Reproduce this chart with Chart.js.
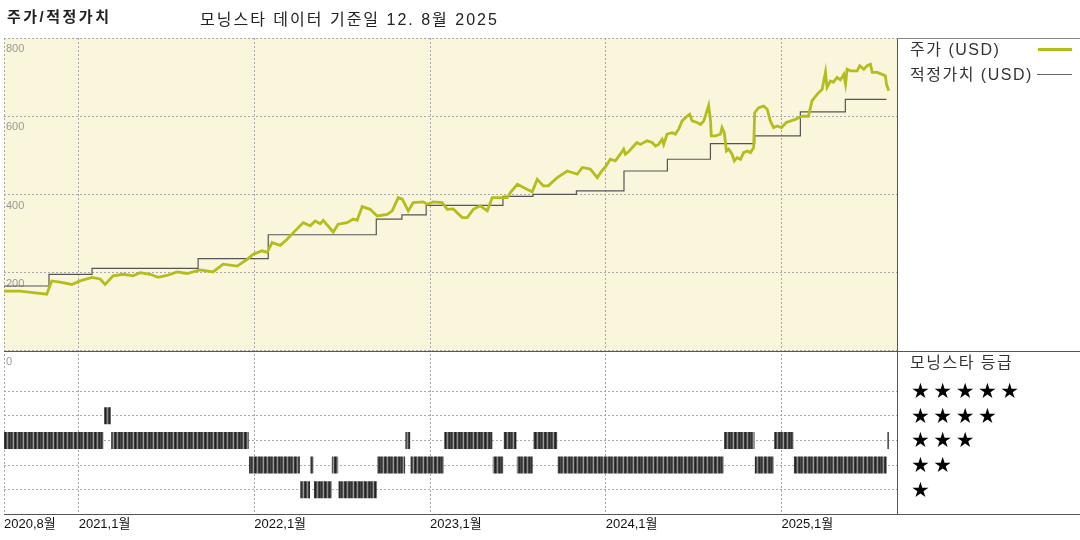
<!DOCTYPE html>
<html lang="ko">
<head>
<meta charset="utf-8">
<title>주가/적정가치</title>
<script src="https://cdn.jsdelivr.net/npm/chart.js@4.4.1/dist/chart.umd.min.js"></script>
<style>
  html, body { margin: 0; padding: 0; background: #fff; }
  #wrap { position: relative; width: 1080px; height: 540px; overflow: hidden;
          font-family: "Liberation Sans", "Noto Sans CJK KR", sans-serif; color: #222; }
  #chart { position: absolute; left: 0; top: 0; }
  .txt { position: absolute; white-space: nowrap; line-height: 1; }
  .title { left: 7px; top: 9px; font-size: 15px; font-weight: bold; letter-spacing: 2.5px; }
  .sub { left: 200px; top: 12px; font-size: 16px; letter-spacing: 2px; }
  .legend { left: 910px; font-size: 16px; letter-spacing: 1.5px; color: #333; }
  .swatch { position: absolute; }
  .stars { left: 911px; font-family: "DejaVu Sans", sans-serif; font-size: 21px; letter-spacing: 3.5px; color: #000; }
</style>
</head>
<body>
<div id="wrap">
  <canvas id="chart" width="1080" height="540"></canvas>
  <div class="txt title">주가/적정가치</div>
  <div class="txt sub">모닝스타 데이터 기준일 12. 8월 2025</div>

  <div class="txt legend" style="top:42px">주가 (USD)</div>
  <div class="swatch" style="left:1038px; top:48px; width:34px; height:3px; background:#b4bd1b"></div>
  <div class="txt legend" style="top:67px">적정가치 (USD)</div>
  <div class="swatch" style="left:1037px; top:74px; width:35px; height:1px; background:#666"></div>

  <div class="txt legend" style="top:355px">모닝스타 등급</div>
  <div class="txt stars" style="top:381px">★★★★★</div>
  <div class="txt stars" style="top:406px">★★★★</div>
  <div class="txt stars" style="top:430px">★★★</div>
  <div class="txt stars" style="top:455px">★★</div>
  <div class="txt stars" style="top:480px">★</div>
</div>
<script>
// Dates en années décimales
const priceDates = [
  2020.575, 2020.666, 2020.740, 2020.818, 2020.847, 2020.894, 2020.961, 2021.008, 2021.075, 2021.122,
  2021.150, 2021.196, 2021.253, 2021.310, 2021.350, 2021.407, 2021.452, 2021.503, 2021.560, 2021.617,
  2021.691, 2021.765, 2021.822, 2021.902, 2021.959, 2021.993, 2022.044, 2022.073, 2022.101, 2022.147,
  2022.185, 2022.232, 2022.278, 2022.318, 2022.346, 2022.375, 2022.392, 2022.449, 2022.477, 2022.528,
  2022.563, 2022.585, 2022.614, 2022.659, 2022.699, 2022.756, 2022.785, 2022.819, 2022.842, 2022.876,
  2022.904, 2022.961, 2022.984, 2023.018, 2023.069, 2023.098, 2023.132, 2023.183, 2023.212, 2023.246,
  2023.286, 2023.326, 2023.354, 2023.400, 2023.440, 2023.457, 2023.497, 2023.554, 2023.582, 2023.610,
  2023.645, 2023.673, 2023.724, 2023.781, 2023.838, 2023.867, 2023.912, 2023.952, 2023.981, 2023.998,
  2024.026, 2024.055, 2024.083, 2024.102, 2024.112, 2024.130, 2024.159, 2024.178, 2024.197, 2024.235,
  2024.264, 2024.283, 2024.301, 2024.321, 2024.330, 2024.349, 2024.378, 2024.396, 2024.415, 2024.435,
  2024.463, 2024.478, 2024.492, 2024.520, 2024.539, 2024.558, 2024.573, 2024.586, 2024.596, 2024.601,
  2024.624, 2024.653, 2024.662, 2024.675, 2024.687, 2024.700, 2024.719, 2024.732, 2024.748, 2024.767,
  2024.785, 2024.805, 2024.824, 2024.842, 2024.848, 2024.871, 2024.899, 2024.919, 2024.937, 2024.956,
  2024.976, 2025.000, 2025.028, 2025.079, 2025.117, 2025.154, 2025.174, 2025.203, 2025.232, 2025.251,
  2025.260, 2025.279, 2025.296, 2025.317, 2025.336, 2025.355, 2025.365, 2025.374, 2025.393, 2025.431,
  2025.446, 2025.469, 2025.488, 2025.507, 2025.517, 2025.545, 2025.574, 2025.592, 2025.598, 2025.611
];
const priceValues = [
  153, 153, 149, 145, 179, 176, 170, 179, 188, 184,
  170, 192, 196, 192, 200, 196, 188, 193, 202, 198,
  207, 202, 222, 217, 234, 247, 256, 252, 277, 270,
  285, 307, 328, 320, 332, 325, 334, 304, 324, 328,
  337, 334, 369, 362, 345, 349, 358, 392, 388, 358,
  379, 381, 375, 381, 379, 362, 363, 341, 341, 362,
  371, 358, 392, 392, 392, 405, 426, 413, 407, 439,
  422, 422, 443, 460, 452, 469, 465, 443, 462, 470,
  490, 486, 503, 516, 503, 509, 524, 533, 528, 537,
  533, 524, 528, 541, 528, 554, 558, 554, 567, 588,
  600, 605, 588, 584, 579, 588, 609, 628, 592, 550,
  550, 554, 571, 558, 511, 516, 503, 486, 494, 490,
  507, 511, 507, 520, 609, 622, 626, 618, 588, 571,
  575, 571, 584, 592, 600, 600, 639, 656, 669, 713,
  674, 690, 687, 699, 693, 707, 682, 720, 716, 716,
  729, 720, 729, 733, 712, 712, 707, 703, 682, 665
];

// Valeur juste : dates de changement et niveaux
const fairDates = [2020.575, 2020.831, 2021.076, 2021.680, 2022.079, 2022.694, 2022.840, 2022.978, 2023.415,
                   2023.586, 2023.833, 2024.104, 2024.351, 2024.596, 2024.848, 2025.108, 2025.364, 2025.598];
const fairValues = [162, 166, 196, 211, 236, 297, 337, 348, 372, 395, 400, 409, 460, 490, 530, 550, 611, 643];

// Notation Morningstar par période
const ratingStart = [2020.575, 2021.145, 2021.185, 2021.970, 2022.261, 2022.319, 2022.339, 2022.441, 2022.479,
                     2022.699, 2022.860, 2022.889, 2023.081, 2023.357, 2023.419, 2023.494, 2023.587, 2023.726,
                     2024.674, 2024.849, 2024.959, 2025.071, 2025.601];
const ratingEnd = [2021.141, 2021.183, 2021.968, 2022.259, 2022.317, 2022.337, 2022.439, 2022.477, 2022.697,
                   2022.858, 2022.887, 2023.079, 2023.355, 2023.417, 2023.492, 2023.585, 2023.724, 2024.672,
                   2024.847, 2024.957, 2025.069, 2025.599, 2025.612];
const ratingStars = [3, 4, 3, 2, 1, 2, 1, 2, 1, 2, 3, 2, 3, 2, 3, 2, 3, 2, 3, 2, 3, 2, 3];

// Axe X
const xMin = 2020.575;
const xMax = 2025.658;
const xTickValues = [2020.575, 2021, 2022, 2023, 2024, 2025];
const xTickLabels = ['2020,8월', '2021,1월', '2022,1월', '2023,1월', '2024,1월', '2025,1월'];

// Points pour les séries
const pricePoints = priceDates.map((d, i) => ({ x: d, y: priceValues[i] }));
const fairPoints = fairDates.map((d, i) => ({ x: d, y: fairValues[i] }));
const ratingPoints = [];
ratingStars.forEach((stars, i) => {
    ratingPoints.push({ x: ratingStart[i], y: stars }, { x: ratingEnd[i], y: stars }, { x: ratingEnd[i], y: null });
});

// Motif rayé pour les barres de notation
const stripeCanvas = document.createElement('canvas');
const stripeColors = ['#4a4a4a', '#333', '#555', '#9a9a9a', '#3a3a3a', '#222', '#505050', '#8c8c8c', '#444', '#2a2a2a'];
stripeCanvas.width = stripeColors.length;
stripeCanvas.height = 1;
const sctx = stripeCanvas.getContext('2d');
stripeColors.forEach((c, i) => { sctx.fillStyle = c; sctx.fillRect(i, 0, 1, 1); });
const stripes = sctx.createPattern(stripeCanvas, 'repeat');

// Fond jaune du panneau des prix et traits du cadre
const panelPlugin = {
    id: 'panels',
    beforeDatasetsDraw(chart) {
        const { ctx, chartArea } = chart;
        const y = chart.scales.y;
        ctx.save();
        ctx.globalCompositeOperation = 'destination-over';
        ctx.fillStyle = '#faf6dc';
        ctx.fillRect(chartArea.left, y.top, chartArea.right - chartArea.left, y.bottom - y.top);
        ctx.restore();
    },
    afterDraw(chart) {
        const { ctx, chartArea } = chart;
        const y = chart.scales.y;
        const sep = Math.round(y.bottom) + 0.5;
        const top = Math.round(chartArea.top) + 0.5;
        const bottom = Math.round(chartArea.bottom) + 0.5;
        const right = Math.round(chartArea.right) + 0.5;
        ctx.save();
        ctx.lineWidth = 1;
        ctx.strokeStyle = '#888';
        ctx.beginPath();
        ctx.moveTo(right, top); ctx.lineTo(chart.width, top);
        ctx.stroke();
        ctx.strokeStyle = '#555';
        ctx.beginPath();
        ctx.moveTo(chartArea.left, sep); ctx.lineTo(chart.width, sep);
        ctx.moveTo(chartArea.left, bottom); ctx.lineTo(chart.width, bottom);
        ctx.moveTo(right, top); ctx.lineTo(right, bottom);
        ctx.stroke();
        ctx.restore();
    }
};

const gridColor = '#a8a8a8';

const ctx = document.getElementById('chart').getContext('2d');
const chart = new Chart(ctx, {
    type: 'line',
    data: {
        datasets: [
            {
                label: '주가 (USD)',
                data: pricePoints,
                yAxisID: 'y',
                borderColor: '#b4bd1b',
                borderWidth: 2.8,
                pointRadius: 0,
                tension: 0
            },
            {
                label: '적정가치 (USD)',
                data: fairPoints,
                yAxisID: 'y',
                borderColor: '#555',
                borderWidth: 1.2,
                pointRadius: 0,
                stepped: 'after'
            },
            {
                label: '모닝스타 등급',
                data: ratingPoints,
                yAxisID: 'yRating',
                borderColor: stripes,
                borderWidth: 17,
                borderCapStyle: 'butt',
                pointRadius: 0,
                spanGaps: false
            }
        ]
    },
    options: {
        responsive: false,
        animation: false,
        events: [],
        layout: { padding: { left: 0, top: 38, right: 183, bottom: 6 } },
        plugins: {
            legend: { display: false },
            tooltip: { enabled: false }
        },
        scales: {
            x: {
                type: 'linear',
                min: xMin,
                max: xMax,
                afterBuildTicks: (scale) => { scale.ticks = xTickValues.map(v => ({ value: v })); },
                ticks: {
                    autoSkip: false,
                    maxRotation: 0,
                    align: 'start',
                    padding: 2,
                    color: '#111',
                    font: { family: '"Liberation Sans", "Noto Sans CJK KR"', size: 13 },
                    callback: (value, index) => xTickLabels[index]
                },
                grid: { color: gridColor, drawTicks: false },
                border: { display: false, dash: [2, 2] }
            },
            y: {
                type: 'linear',
                position: 'left',
                stack: 'panel',
                stackWeight: 314,
                weight: 1,
                min: 0,
                max: 800,
                ticks: {
                    stepSize: 200,
                    mirror: true,
                    padding: 2,
                    labelOffset: 11,
                    color: '#999',
                    font: { family: '"Liberation Sans"', size: 11 }
                },
                grid: { color: gridColor, drawTicks: false },
                border: { display: false, dash: [2, 2] }
            },
            yRating: {
                type: 'linear',
                position: 'left',
                stack: 'panel',
                stackWeight: 164,
                weight: 0,
                min: 0,
                max: 6.63,
                afterBuildTicks: (scale) => { scale.ticks = [1, 2, 3, 4, 5].map(v => ({ value: v })); },
                ticks: { display: false },
                grid: { color: gridColor, drawTicks: false },
                border: { display: false, dash: [2, 2] }
            }
        }
    },
    plugins: [panelPlugin]
});
</script>
</body>
</html>
